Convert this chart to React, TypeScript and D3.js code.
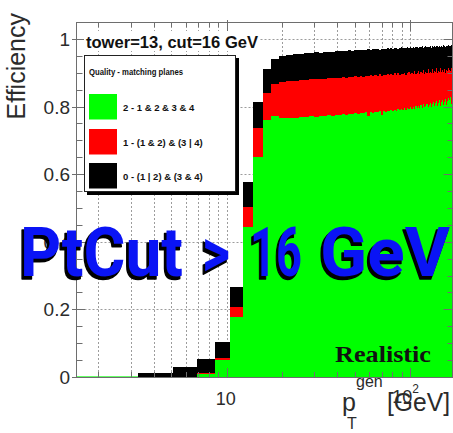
import React from 'react';
import * as d3 from 'd3';

// Histogram binning (GeV)
const BIN_START = 1.52;
const BIN_WIDTH = 1.78;

// Efficiency, quality >= 0 (all matched: black)
const effAll = [
  0, 0.012, 0.030, 0.053, 0.104, 0.266, 0.577, 0.814, 0.912, 0.940,
  0.950, 0.952, 0.955, 0.954, 0.957, 0.958, 0.960, 0.959, 0.961, 0.962,
  0.962, 0.964, 0.963, 0.965, 0.964, 0.966, 0.965, 0.967, 0.966, 0.968,
  0.967, 0.968, 0.969, 0.967, 0.970, 0.969, 0.970, 0.968, 0.971, 0.970,
  0.971, 0.972, 0.970, 0.973, 0.971, 0.972, 0.974, 0.971, 0.973, 0.975,
  0.972, 0.974, 0.973, 0.976, 0.972, 0.975, 0.974, 0.977, 0.973, 0.976,
  0.975, 0.973, 0.977, 0.975, 0.978, 0.974, 0.976, 0.979, 0.975, 0.977,
  0.976, 0.979, 0.974, 0.978, 0.977, 0.980, 0.975, 0.978, 0.979, 0.976,
  0.980, 0.977, 0.979, 0.976, 0.981, 0.978, 0.977, 0.980, 0.978, 0.982,
  0.977, 0.980, 0.979, 0.981, 0.978,
];

// Efficiency, quality >= 1 (red + green)
const effQ1 = [
  0, 0, 0, 0.012, 0.056, 0.207, 0.503, 0.737, 0.840, 0.868,
  0.873, 0.876, 0.875, 0.879, 0.878, 0.881, 0.880, 0.882, 0.881, 0.884,
  0.883, 0.885, 0.884, 0.887, 0.885, 0.888, 0.886, 0.889, 0.887, 0.890,
  0.888, 0.891, 0.889, 0.892, 0.890, 0.893, 0.891, 0.895, 0.890, 0.894,
  0.892, 0.896, 0.893, 0.897, 0.892, 0.898, 0.894, 0.899, 0.893, 0.897,
  0.895, 0.900, 0.894, 0.898, 0.902, 0.895, 0.899, 0.896, 0.904, 0.897,
  0.900, 0.906, 0.896, 0.901, 0.898, 0.908, 0.897, 0.902, 0.899, 0.910,
  0.898, 0.903, 0.900, 0.911, 0.899, 0.904, 0.901, 0.913, 0.900, 0.906,
  0.902, 0.914, 0.901, 0.907, 0.903, 0.912, 0.900, 0.908, 0.904, 0.915,
  0.902, 0.909, 0.905, 0.913, 0.903,
];

// Efficiency, quality 2 (green)
const effQ2 = [
  0, 0, 0, 0.008, 0.050, 0.178, 0.444, 0.651, 0.760, 0.772,
  0.765, 0.767, 0.766, 0.769, 0.768, 0.771, 0.770, 0.772, 0.771, 0.774,
  0.773, 0.776, 0.774, 0.777, 0.776, 0.779, 0.777, 0.780, 0.778, 0.781,
  0.780, 0.783, 0.772, 0.784, 0.782, 0.785, 0.783, 0.787, 0.776, 0.786,
  0.785, 0.788, 0.786, 0.790, 0.787, 0.791, 0.788, 0.792, 0.789, 0.793,
  0.790, 0.795, 0.791, 0.796, 0.792, 0.798, 0.793, 0.799, 0.794, 0.801,
  0.795, 0.802, 0.796, 0.804, 0.797, 0.806, 0.798, 0.803, 0.808, 0.799,
  0.805, 0.811, 0.800, 0.807, 0.813, 0.801, 0.809, 0.816, 0.802, 0.810,
  0.818, 0.803, 0.812, 0.820, 0.804, 0.814, 0.822, 0.805, 0.816, 0.825,
  0.806, 0.818, 0.827, 0.808, 0.820,
];

const yMajorTicks = [0, 0.2, 0.4, 0.6, 0.8, 1];
const yTickLabels = ['0', '0.2', '0.4', '0.6', '0.8', '1'];
const yMinorTicks = [0.05, 0.1, 0.15, 0.25, 0.3, 0.35, 0.45, 0.5, 0.55, 0.65, 0.7, 0.75, 0.85, 0.9, 0.95, 1.05];
const xMinorTicks = [2, 3, 4, 5, 6, 7, 8, 9, 20, 30, 40, 50, 60, 70, 80, 90];
const xMajorTicks = [10, 100];
const xGrid = [2, 3, 4, 5, 6, 7, 8, 9, 10, 20, 30, 40, 50, 60, 70, 80, 90, 100];

const legendHeader = 'Quality - matching planes';
const legendLabels = ['2 - 1 & 2 & 3 & 4', '1 - (1 & 2) & (3 | 4)', '0 - (1 | 2) & (3 & 4)'];
const COLORS = { q2: '#00ff00', q1: '#ff0000', q0: '#000000' };
const legendColors = [COLORS.q2, COLORS.q1, COLORS.q0];

const overlayParts = ['PtCut', '>', '16', 'GeV'];

const FONT = "'Liberation Sans', Arial, Helvetica, sans-serif";

export default function App() {
  const L = 76.5, R = 452.5, T = 22, B = 377;
  const x = d3.scaleLog().domain([BIN_START, 170]).range([L, R]);
  const y = d3.scaleLinear().domain([0, 1.05]).range([B, T]);
  const edges = d3.range(effAll.length + 1).map((k) => BIN_START + k * BIN_WIDTH);

  const stepArea = (vals: number[]) => {
    const pts: [number, number][] = vals.map((v, i) => [edges[i], v]);
    pts.push([edges[vals.length], vals[vals.length - 1]]);
    return d3
      .area<[number, number]>()
      .x((d) => x(d[0]))
      .y0(y(0))
      .y1((d) => y(d[1]))
      .curve(d3.curveStepAfter)(pts) as string;
  };

  const gridColor = '#9c9c9c';
  const axisColor = '#6e6e6e';
  const textColor = '#2b2b2b';

  const legendRows = [94, 129, 163];
  const overlayX = [20, 202, 250, 320];
  const overlayW = [163, 28, 52, 130];

  return (
    <svg
      width={453}
      height={433}
      viewBox="0 0 453 433"
      style={{ position: 'absolute', left: 0, top: 0, background: '#fff' }}
      fontFamily={FONT}
    >
      <defs>
        <clipPath id="plotClip">
          <rect x={L} y={T} width={R - L + 1} height={B - T} />
        </clipPath>
      </defs>
      <rect x={0} y={0} width={453} height={433} fill="#fff" />

      {/* grid */}
      <g stroke={gridColor} strokeWidth={1} strokeDasharray="2,2">
        {xGrid.map((v) => (
          <line key={'gx' + v} x1={Math.round(x(v)) + 0.5} x2={Math.round(x(v)) + 0.5} y1={T} y2={B} />
        ))}
        {yMajorTicks.filter((v) => v > 0).map((v) => (
          <line key={'gy' + v} x1={L} x2={R} y1={Math.round(y(v)) + 0.5} y2={Math.round(y(v)) + 0.5} />
        ))}
      </g>

      {/* histograms */}
      <g clipPath="url(#plotClip)" shapeRendering="crispEdges">
        <path d={stepArea(effAll)} fill={COLORS.q0} />
        <path d={stepArea(effQ1)} fill={COLORS.q1} />
        <path d={stepArea(effQ2)} fill={COLORS.q2} />
        <line x1={x(edges[0])} x2={x(edges[1])} y1={B - 0.5} y2={B - 0.5} stroke="#66ff66" strokeWidth={2} />
      </g>

      {/* frame */}
      <g stroke={axisColor} strokeWidth={1} fill="none">
        <line x1={L} x2={L} y1={T} y2={B} />
        <line x1={L} x2={R} y1={T + 0.5} y2={T + 0.5} />
        <line x1={L} x2={R + 1} y1={B + 0.5} y2={B + 0.5} />
        <line x1={R} x2={R} y1={T} y2={B} />
        {yMajorTicks.map((v) => (
          <g key={'ym' + v}>
            <line x1={72} x2={85} y1={Math.round(y(v)) + 0.5} y2={Math.round(y(v)) + 0.5} />
            <line x1={R - 9} x2={R} y1={Math.round(y(v)) + 0.5} y2={Math.round(y(v)) + 0.5} />
          </g>
        ))}
        {yMinorTicks.map((v) => (
          <g key={'yn' + v}>
            <line x1={L} x2={L + 6} y1={Math.round(y(v)) + 0.5} y2={Math.round(y(v)) + 0.5} />
            <line x1={R - 5} x2={R} y1={Math.round(y(v)) + 0.5} y2={Math.round(y(v)) + 0.5} />
          </g>
        ))}
        {xMinorTicks.map((v) => (
          <g key={'xn' + v}>
            <line x1={Math.round(x(v)) + 0.5} x2={Math.round(x(v)) + 0.5} y1={T} y2={T + 5} />
            <line x1={Math.round(x(v)) + 0.5} x2={Math.round(x(v)) + 0.5} y1={B} y2={B - 5} />
          </g>
        ))}
        {xMajorTicks.map((v) => (
          <g key={'xm' + v}>
            <line x1={Math.round(x(v)) + 0.5} x2={Math.round(x(v)) + 0.5} y1={T - 2} y2={T + 9} />
            <line x1={Math.round(x(v)) + 0.5} x2={Math.round(x(v)) + 0.5} y1={B} y2={B - 9} />
          </g>
        ))}
      </g>

      {/* y tick labels */}
      <g fill={textColor} fontSize={19} textAnchor="end">
        {yMajorTicks.map((v, i) => (
          <text key={'yl' + v} x={70} y={y(v) + 7}>
            {yTickLabels[i]}
          </text>
        ))}
      </g>

      {/* x tick labels */}
      <g fill={textColor} fontSize={18}>
        <text x={x(10) - 1} y={405} textAnchor="middle">10</text>
        <text x={x(100) + 2} y={403} textAnchor="end">10</text>
        <text x={x(100) + 2} y={393} fontSize={12}>2</text>
      </g>

      {/* axis titles */}
      <text
        transform="translate(25,13) rotate(-90)"
        textAnchor="end"
        fontSize={25}
        fill={textColor}
      >
        Efficiency
      </text>
      <g fill={textColor}>
        <text x={342} y={411} fontSize={25}>p</text>
        <text x={347} y={429} fontSize={16}>T</text>
        <text x={356} y={387} fontSize={16}>gen</text>
        <text x={387} y={411} fontSize={25} textLength={63} lengthAdjust="spacingAndGlyphs">[GeV]</text>
      </g>

      {/* title */}
      <rect x={84} y={31} width={176} height={20} fill="#fff" />
      <text x={86} y={47.5} fontSize={16.5} fontWeight="bold" fill="#111" textLength={172} lengthAdjust="spacingAndGlyphs">
        tower=13, cut=16 GeV
      </text>

      {/* legend */}
      <rect x={87} y={58} width={152} height={137} fill="#000" />
      <rect x={84.5} y={55.5} width={151} height={136} fill="#fff" stroke="#222" strokeWidth={1} />
      <text x={89} y={75} fontSize={8.5} fontWeight="bold" fill="#111" textLength={94} lengthAdjust="spacingAndGlyphs">
        {legendHeader}
      </text>
      {legendLabels.map((lab, i) => (
        <g key={'leg' + i}>
          <rect x={89} y={legendRows[i]} width={28} height={25.5} fill={legendColors[i]} />
          <text x={123} y={legendRows[i] + 16.5} fontSize={9.5} fontWeight="bold" fill="#111">
            {lab}
          </text>
        </g>
      ))}

      {/* Realistic */}
      <text
        x={335}
        y={362}
        fontSize={24}
        fontWeight="bold"
        fill="#111"
        fontFamily="'Liberation Serif', 'Times New Roman', serif"
        textLength={96}
        lengthAdjust="spacingAndGlyphs"
      >
        Realistic
      </text>

      {/* PtCut overlay */}
      {overlayParts.map((s, i) => (
        <g key={s} fontFamily="Roboto, 'DejaVu Sans', sans-serif" fontWeight="bold" fontSize={68}>
          <text
            x={overlayX[i] - 2}
            y={279}
            fill="#000"
            stroke="#000"
            strokeWidth={1.5}
            strokeLinejoin="round"
            textLength={overlayW[i]}
            lengthAdjust="spacingAndGlyphs"
          >
            {s}
          </text>
          <text
            x={overlayX[i]}
            y={276}
            fill="#0a14f5"
            textLength={overlayW[i]}
            lengthAdjust="spacingAndGlyphs"
          >
            {s}
          </text>
        </g>
      ))}
    </svg>
  );
}
